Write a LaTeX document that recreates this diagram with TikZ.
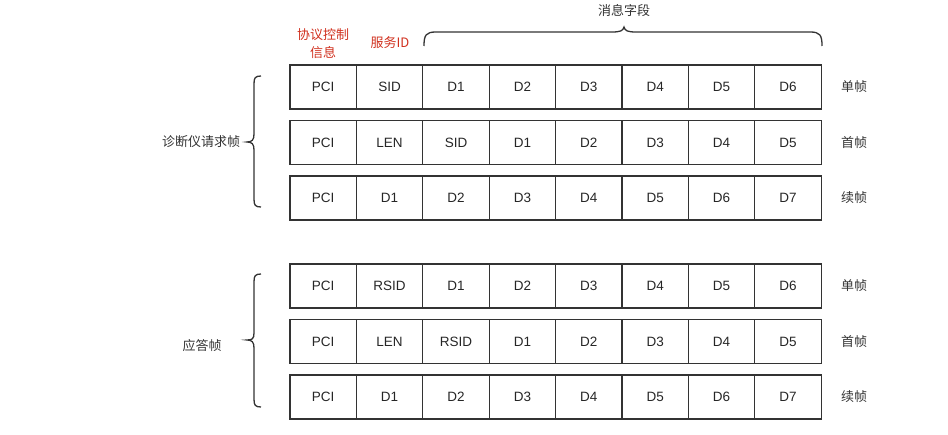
\documentclass[tikz,border=0pt]{standalone}
\usepackage{fontspec}
\setmainfont{Liberation Sans}
\newfontfamily\cjk{Noto Sans CJK SC}
\usetikzlibrary{positioning}
\definecolor{framegray}{HTML}{333333}
\definecolor{notered}{HTML}{D0301E}
\tikzset{
  cell/.style={draw=framegray, line width=1.3pt, minimum width=66.4pt, minimum height=44pt, inner sep=0pt, text height=9.5pt, text depth=0pt, font=\fontsize{13.5}{15}\selectfont, text=black!85},
  lbl/.style={font=\cjk\fontsize{13}{18}\selectfont, text=black!80, inner sep=1pt},
  redlbl/.style={lbl, text=notered, align=center},
  bracepath/.style={draw=framegray, line width=1.3pt},
}
\begin{document}
\begin{tikzpicture}[x=1pt,y=-1pt]
\useasboundingbox (0,0) rectangle (948,435);
\foreach \r/\yy/\cells in {1/87/{PCI,SID,D1,D2,D3,D4,D5,D6}, 2/142.7/{PCI,LEN,SID,D1,D2,D3,D4,D5}, 3/198/{PCI,D1,D2,D3,D4,D5,D6,D7}, 4/286/{PCI,RSID,D1,D2,D3,D4,D5,D6}, 5/341.5/{PCI,LEN,RSID,D1,D2,D3,D4,D5}, 6/397/{PCI,D1,D2,D3,D4,D5,D6,D7}}
  \foreach \t [count=\c] in \cells
    \node[cell] (f\r c\c) at ({290+66.4*(\c-0.5)},\yy) {\t};
\foreach \r/\t in {1/单帧,2/首帧,3/续帧,4/单帧,5/首帧,6/续帧}
  \node[lbl, right=18pt of f\r c8] (kind\r) {\t};
\node[redlbl] (pcilbl) at (323,43.5) {协议控制\\信息};
\node[redlbl] (sidlbl) at (390,42.3) {服务ID};
\node[lbl] (msglbl) at (624,11) {消息字段};
\node[lbl] (reqlbl) at (201,142) {诊断仪请求帧};
\node[lbl] (resplbl) at (202,346) {应答帧};
\coordinate (msgl) at (424,46);
\coordinate (msgr) at (822,46);
\coordinate (reqtop) at (261,76);
\coordinate (reqbot) at (261,207);
\coordinate (resptop) at (261,274);
\coordinate (respbot) at (261,407);
\draw[bracepath] (msgl) .. controls (424,35) and (426,32) .. (436,32) -- (612,32) .. controls (620,32) and (623,31) .. (624,27) .. controls (625,31) and (628,32) .. (636,32) -- (810,32) .. controls (820,32) and (822,35) .. (msgr);
\draw[bracepath] (reqtop) .. controls (255,76) and (254,78) .. (254,84) -- (254,134) .. controls (254,140) and (252,142) .. (247,142) .. controls (252,142) and (254,144) .. (254,150) -- (254,199) .. controls (254,205) and (255,207) .. (reqbot);
\draw[bracepath] (resptop) .. controls (255,274) and (254,276) .. (254,282) -- (254,333) .. controls (254,339) and (252,340) .. (247,340) .. controls (252,340) and (254,342) .. (254,348) -- (254,399) .. controls (254,405) and (255,407) .. (respbot);
\end{tikzpicture}
\end{document}
